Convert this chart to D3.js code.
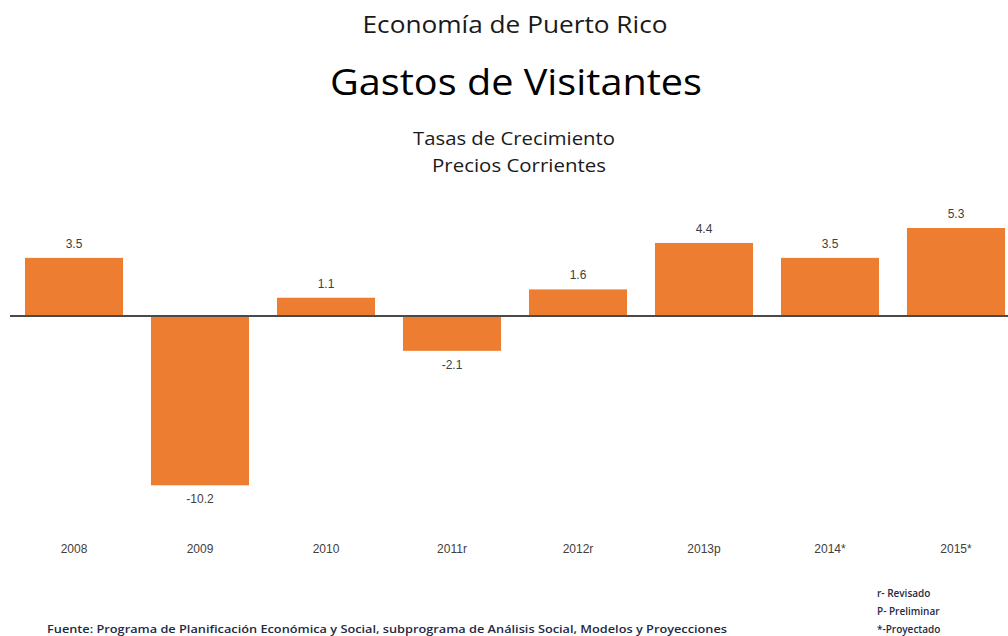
<!DOCTYPE html>
<html>
<head>
<meta charset="utf-8">
<script src="https://cdn.jsdelivr.net/npm/d3@7"></script>
<style>
  body { margin: 0; background: #fff; }
  svg { display: block; }
  .val, .cat { font-family: "Liberation Sans", Arial, sans-serif; font-size: 12px; fill: #404040; }
  .note { font-family: "Open Sans", sans-serif; font-size: 10px; font-weight: 600; fill: #1f2a44; }
  .title { font-family: "Open Sans", sans-serif; }
</style>
</head>
<body>
<div id="chart"></div>
<script>
// years and growth rates (%)
const years = ['2008', '2009', '2010', '2011r', '2012r', '2013p', '2014*', '2015*'];
const rates = [3.5, -10.2, 1.1, -2.1, 1.6, 4.4, 3.5, 5.3];
const notes = ['r- Revisado', 'P- Preliminar', '*-Proyectado'];

const data = years.map((y, i) => ({ year: y, value: rates[i] }));

const width = 1008;
const height = 636;

const svg = d3.select('#chart')
  .append('svg')
  .attr('width', width)
  .attr('height', height);

const xScale = d3.scaleBand()
  .domain(years)
  .range([11, 1019])
  .paddingInner(0.222)
  .paddingOuter(0.111);

// 16.6 px per point
const yScale = d3.scaleLinear()
  .domain([-10.2, 5.3])
  .range([485.3, 228]);

// titles
svg.append('text')
  .attr('class', 'title')
  .attr('x', 515).attr('y', 33)
  .attr('text-anchor', 'middle')
  .attr('textLength', 305)
  .attr('lengthAdjust', 'spacingAndGlyphs')
  .style('font-size', '24px')
  .style('fill', '#1a1a1a')
  .text('Economía de Puerto Rico');

svg.append('text')
  .attr('class', 'title')
  .attr('x', 516).attr('y', 95)
  .attr('text-anchor', 'middle')
  .attr('textLength', 372)
  .attr('lengthAdjust', 'spacingAndGlyphs')
  .style('font-size', '37px')
  .style('fill', '#000')
  .text('Gastos de Visitantes');

svg.append('text')
  .attr('class', 'title')
  .attr('x', 514).attr('y', 145)
  .attr('text-anchor', 'middle')
  .attr('textLength', 202)
  .attr('lengthAdjust', 'spacingAndGlyphs')
  .style('font-size', '19px')
  .style('fill', '#1a1a1a')
  .text('Tasas de Crecimiento');

svg.append('text')
  .attr('class', 'title')
  .attr('x', 519).attr('y', 172)
  .attr('text-anchor', 'middle')
  .attr('textLength', 174)
  .attr('lengthAdjust', 'spacingAndGlyphs')
  .style('font-size', '19px')
  .style('fill', '#1a1a1a')
  .text('Precios Corrientes');

// bars
svg.append('g')
  .selectAll('rect')
  .data(data)
  .join('rect')
  .attr('x', d => xScale(d.year))
  .attr('width', xScale.bandwidth())
  .attr('y', d => yScale(Math.max(0, d.value)))
  .attr('height', d => Math.abs(yScale(d.value) - yScale(0)))
  .attr('fill', '#ed7d31');

// zero line
svg.append('line')
  .attr('x1', 10).attr('x2', width)
  .attr('y1', yScale(0)).attr('y2', yScale(0))
  .attr('stroke', '#4a4a4a')
  .attr('stroke-width', 2);

// value labels
svg.append('g')
  .selectAll('text')
  .data(data)
  .join('text')
  .attr('class', 'val')
  .attr('x', d => xScale(d.year) + xScale.bandwidth() / 2)
  .attr('y', d => d.value >= 0 ? yScale(d.value) - 10 : yScale(d.value) + 18)
  .attr('text-anchor', 'middle')
  .text(d => d.value.toFixed(1));

// category labels
svg.append('g')
  .selectAll('text')
  .data(years)
  .join('text')
  .attr('class', 'cat')
  .attr('x', d => xScale(d) + xScale.bandwidth() / 2)
  .attr('y', 553)
  .attr('text-anchor', 'middle')
  .text(d => d);

// notes
svg.append('g')
  .selectAll('text')
  .data(notes)
  .join('text')
  .attr('class', 'note')
  .attr('x', 877)
  .attr('y', (d, i) => 597 + i * 18)
  .text(d => d);

svg.append('text')
  .attr('class', 'note')
  .attr('x', 47).attr('y', 633)
  .attr('textLength', 680)
  .attr('lengthAdjust', 'spacingAndGlyphs')
  .text('Fuente: Programa de Planificación Económica  y Social, subprograma de Análisis Social, Modelos y Proyecciones');
</script>
</body>
</html>
